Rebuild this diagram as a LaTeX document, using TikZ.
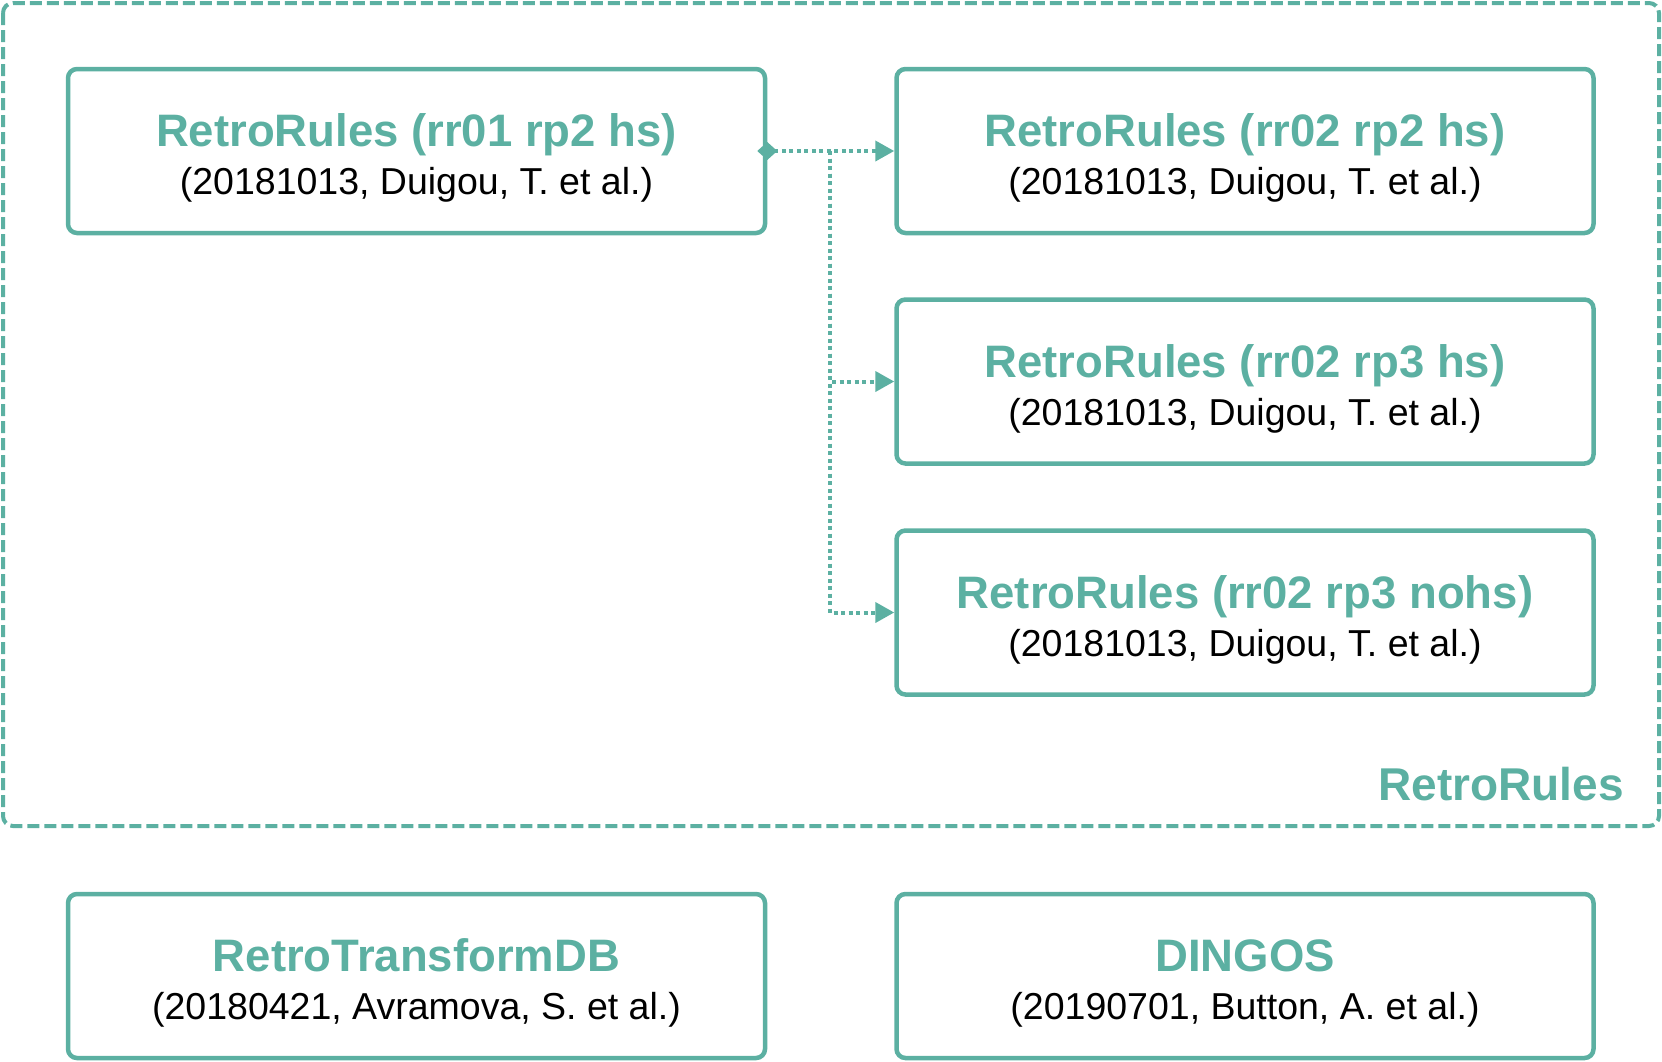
\documentclass[tikz,border=0pt]{standalone}
\usepackage{fontspec}
\setmainfont{Liberation Sans}
\usetikzlibrary{arrows.meta}
\definecolor{rrteal}{HTML}{5CB0A2}
\tikzset{
  dbbox/.style={draw=rrteal, line width=4.5pt, rounded corners=9pt, minimum width=697pt, minimum height=164pt, align=center, inner sep=0pt, font=\fontsize{37.5}{48}\selectfont},
  link/.style={rrteal, line width=4pt, dash pattern=on 4pt off 3.5pt, -{Triangle[length=19pt,width=20pt]}}
}
\newcommand\dbname[1]{{\fontsize{45.5}{48}\selectfont\bfseries\color{rrteal}\rule{0pt}{47pt}#1}}
\newcommand\dbref[1]{#1}

\begin{document}
\begin{tikzpicture}[x=1pt,y=-1pt]
\useasboundingbox (0,0) rectangle (1662,1061);
% group frame
\draw[rrteal, line width=4pt, dash pattern=on 12pt off 5pt, rounded corners=10pt] (3,3) rectangle (1659,826);
\node [anchor=base east, inner sep=0pt] at (1624,800) (group) {\fontsize{46}{50}\selectfont\bfseries\color{rrteal}RetroRules};
%
\node [dbbox] at (416.5,151) (rr01 rp2) {\dbname{RetroRules (rr01 rp2 hs)}\\\dbref{(20181013, Duigou, T. et al.)}};
\node [dbbox] at (1245,151) (rr02 rp2) {\dbname{RetroRules (rr02 rp2 hs)}\\\dbref{(20181013, Duigou, T. et al.)}};
\node [dbbox] at (1245,381.5) (rr02 rp3) {\dbname{RetroRules (rr02 rp3 hs)}\\\dbref{(20181013, Duigou, T. et al.)}};
\node [dbbox] at (1245,612.5) (rr02 rp3 nohs) {\dbname{RetroRules (rr02 rp3 nohs)}\\\dbref{(20181013, Duigou, T. et al.)}};
\node [dbbox] at (416.5,976) (rtdb) {\dbname{RetroTransformDB}\\\dbref{(20180421, Avramova, S. et al.)}};
\node [dbbox] at (1245,976) (dingos) {\dbname{DINGOS}\\\dbref{(20190701, Button, A. et al.)}};
%
\coordinate (trunk) at (830,151);
%
\draw[link, shorten <=-10pt, {Diamond[length=20pt,width=18pt]}-{Triangle[length=19pt,width=20pt]}] (rr01 rp2.east) -- (rr02 rp2.west);
\draw[link] (trunk) |- (rr02 rp3.west);
\draw[link] (trunk) |- (rr02 rp3 nohs.west);

\end{tikzpicture}
\end{document}
